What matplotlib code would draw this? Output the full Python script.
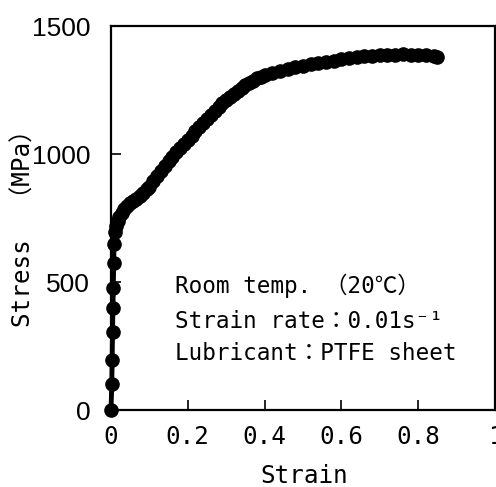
import matplotlib.pyplot as plt

# stress-strain curve
strain = [0, 0.002, 0.003, 0.004, 0.005, 0.006, 0.007, 0.008, 0.010, 0.013,
          0.017, 0.022, 0.028, 0.035, 0.042, 0.05, 0.058, 0.066, 0.075, 0.084,
          0.093, 0.10, 0.11, 0.12, 0.13, 0.14, 0.15, 0.16, 0.17, 0.18,
          0.19, 0.20, 0.21, 0.22, 0.23, 0.24, 0.25, 0.26, 0.27, 0.28,
          0.29, 0.30, 0.31, 0.32, 0.33, 0.34, 0.35, 0.36, 0.37, 0.38,
          0.39, 0.40, 0.42, 0.44, 0.46, 0.48, 0.50, 0.52, 0.54, 0.56,
          0.58, 0.60, 0.62, 0.64, 0.66, 0.68, 0.70, 0.72, 0.74, 0.76,
          0.78, 0.80, 0.82, 0.84, 0.85]
stress = [0, 100, 195, 305, 400, 475, 575, 650, 695, 718,
          738, 755, 770, 784, 797, 808, 817, 826, 837, 849,
          862, 873, 893, 913, 933, 953, 972, 990, 1007, 1024,
          1040, 1056, 1072, 1090, 1106, 1122, 1138, 1154, 1169, 1184,
          1198, 1211, 1224, 1236, 1248, 1259, 1269, 1279, 1287, 1295,
          1302, 1309, 1318, 1325, 1332, 1338, 1343, 1350, 1355, 1360,
          1365, 1370, 1374, 1377, 1381, 1384, 1386, 1388, 1388, 1389,
          1388, 1387, 1385, 1382, 1380]

xticks = [0, 0.2, 0.4, 0.6, 0.8, 1.0]
xticklabels = ['0', '0.2', '0.4', '0.6', '0.8', '1']
yticks = [0, 500, 1000, 1500]
yticklabels = ['0', '500', '1000', '1500']

notes = ['Room temp. （20℃）',
         'Strain rate：0.01s⁻¹',
         'Lubricant：PTFE sheet']

mono = ['DejaVu Sans Mono', 'Noto Sans CJK JP']
sans = ['Liberation Sans']

fig = plt.figure(figsize=(4.96, 4.87), dpi=100)
ax = fig.add_axes([0.2238, 0.1581, 0.7742, 0.7885])

ax.plot(strain, stress, 'o-', color='black', ms=9.5, lw=3.5, clip_on=False, zorder=3)

ax.set_xlim(0, 1.0)
ax.set_ylim(0, 1500)
ax.set_xticks(xticks)
ax.set_xticklabels(xticklabels, family=mono, fontsize=17.5)
ax.set_yticks(yticks)
ax.set_yticklabels(yticklabels, family=sans, fontsize=19)
ax.tick_params(axis='x', direction='in', length=7, width=1.2, pad=11)
ax.tick_params(axis='y', direction='in', length=7, width=1.2, pad=15)
for s in ax.spines.values():
    s.set_linewidth(1.6)

fig.text(304 / 496, 1 - 476 / 487, 'Strain', family=mono, fontsize=17.5,
         ha='center', va='center')
fig.text(24 / 496, 1 - 222 / 487, 'Stress  （MPa）', family=mono, fontsize=17.5,
         ha='center', va='center', rotation=90)

ybase = [0.305, 0.2135, 0.130]
for t, yb in zip(notes, ybase):
    ax.text(0.167, yb, t, transform=ax.transAxes, family=mono, fontsize=16.3,
            ha='left', va='baseline')

fig.savefig('out.png', dpi=100)
